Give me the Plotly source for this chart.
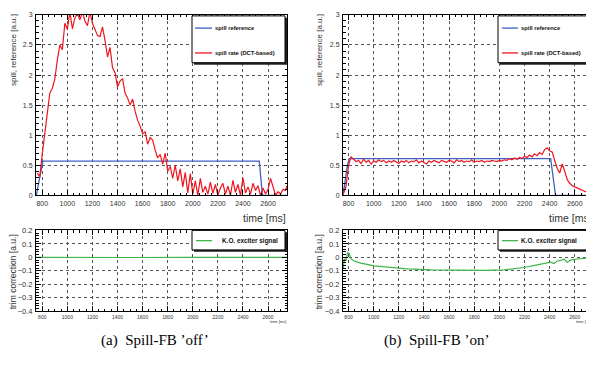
import plotly.graph_objects as go

# The page body has an 8px default margin; the figure is sized/shifted to compensate.
W, H = 594, 368
OFF = 8
FW, FH = W - OFF, H - OFF

# ---------------- data ----------------
t_off = [760, 780, 800, 820, 840, 860, 880, 900, 920, 940, 960, 980, 1000, 1020, 1040, 1060, 1080, 1100,
         1120, 1140, 1160, 1180, 1200, 1220, 1240, 1260, 1280, 1300, 1320, 1340, 1360, 1380, 1400, 1420,
         1440, 1460, 1480, 1500, 1520, 1540, 1560, 1580, 1600, 1620, 1640, 1660, 1680, 1700, 1720, 1740,
         1760, 1780, 1800, 1820, 1840, 1860, 1880, 1900, 1920, 1940, 1960, 1980, 2000, 2020, 2040, 2060,
         2080, 2100, 2120, 2140, 2160, 2180, 2200, 2220, 2240, 2260, 2280, 2300, 2320, 2340, 2360, 2380,
         2400, 2420, 2440, 2460, 2480, 2500, 2520, 2540, 2560, 2580, 2600, 2620, 2640, 2660, 2680, 2700,
         2720, 2740, 2750]
rate_off = [0.37, 0.31, 0.69, 1.05, 1.39, 1.70, 1.78, 1.93, 2.25, 2.50, 2.42, 2.86, 2.76, 3.05, 2.77, 2.95,
            3.02, 2.92, 3.05, 2.90, 2.82, 3.05, 2.86, 2.75, 2.66, 2.64, 2.80, 2.58, 2.30, 2.46, 2.12, 2.04,
            1.80, 1.90, 1.94, 1.70, 1.62, 1.50, 1.60, 1.40, 1.25, 1.15, 1.02, 1.06, 0.85, 0.96, 0.92, 0.75,
            0.62, 0.68, 0.52, 0.70, 0.40, 0.48, 0.28, 0.50, 0.24, 0.44, 0.14, 0.38, 0.04, 0.36, 0.02, 0.24,
            0.00, 0.28, 0.05, 0.15, 0.02, 0.22, 0.03, 0.18, 0.00, 0.12, 0.20, 0.02, 0.15, 0.00, 0.25, 0.05,
            0.18, 0.00, 0.29, 0.04, 0.14, 0.02, 0.20, 0.08, 0.16, 0.00, 0.12, 0.02, 0.10, 0.28, 0.12, 0.00,
            0.06, 0.02, 0.10, 0.08, 0.16]

t_ref_off = [752, 770, 790, 805, 2530, 2555, 2751]
ref_off = [0.0, 0.20, 0.45, 0.57, 0.57, 0.0, 0.0]

t_on = [760, 780, 800, 820, 840, 860, 880, 900, 920, 940, 960, 980, 1000, 1020, 1040, 1060, 1080, 1100,
        1120, 1140, 1160, 1180, 1200, 1220, 1240, 1260, 1280, 1300, 1320, 1340, 1360, 1380, 1400, 1420,
        1440, 1460, 1480, 1500, 1520, 1540, 1560, 1580, 1600, 1620, 1640, 1660, 1680, 1700, 1720, 1740,
        1760, 1780, 1800, 1820, 1840, 1860, 1880, 1900, 1920, 1940, 1960, 1980, 2000, 2020, 2040, 2060,
        2080, 2100, 2120, 2140, 2160, 2180, 2200, 2220, 2240, 2260, 2280, 2300, 2320, 2340, 2360, 2380,
        2400, 2420, 2440, 2460, 2480, 2500, 2520, 2540, 2560, 2580, 2600, 2620, 2640, 2660, 2680, 2700,
        2720, 2740]
rate_on = [0.03, 0.15, 0.50, 0.64, 0.60, 0.56, 0.58, 0.53, 0.60, 0.55, 0.58, 0.52, 0.57, 0.55, 0.59, 0.56,
           0.58, 0.54, 0.57, 0.55, 0.58, 0.56, 0.53, 0.57, 0.55, 0.58, 0.54, 0.57, 0.56, 0.59, 0.54, 0.57,
           0.55, 0.52, 0.57, 0.55, 0.58, 0.56, 0.54, 0.58, 0.56, 0.55, 0.58, 0.57, 0.54, 0.59, 0.56, 0.58,
           0.55, 0.57, 0.56, 0.59, 0.55, 0.57, 0.56, 0.58, 0.55, 0.57, 0.56, 0.58, 0.57, 0.56, 0.58, 0.57,
           0.59, 0.58, 0.61, 0.59, 0.62, 0.60, 0.63, 0.61, 0.65, 0.63, 0.67, 0.64, 0.69, 0.66, 0.71, 0.68,
           0.76, 0.79, 0.74, 0.72, 0.58, 0.45, 0.37, 0.52, 0.40, 0.26, 0.20, 0.16, 0.14, 0.12, 0.10, 0.08,
           0.07, 0.05, 0.03, 0.04]

t_ref_on = [756, 770, 790, 805, 2408, 2447, 2745]
ref_on = [0.0, 0.22, 0.48, 0.61, 0.61, 0.0, 0.0]

t_ko_off = [750, 1000, 1500, 2000, 2500, 2751]
ko_off = [0.0, -0.002, -0.001, 0.0, 0.0, 0.0]

t_ko_on = [758, 766, 780, 792, 805, 819, 845, 898, 1004, 1136, 1269, 1454, 1666, 1878, 2037, 2196,
           2302, 2408, 2434, 2461, 2490, 2514, 2540, 2567, 2620, 2673, 2745]
ko_on = [-0.08, -0.01, -0.02, 0.034, 0.03, -0.01, -0.027, -0.043, -0.063, -0.075, -0.085, -0.092,
         -0.097, -0.097, -0.092, -0.075, -0.055, -0.036, -0.046, -0.027, -0.022, -0.012, -0.036, -0.02,
         -0.012, -0.007, 0.0]

x_tick_vals = [800, 1000, 1200, 1400, 1600, 1800, 2000, 2200, 2400, 2600]
top_y_ticks = [0, 0.5, 1, 1.5, 2, 2.5, 3]
bot_y_ticks = [-0.4, -0.3, -0.2, -0.1, 0, 0.1, 0.2]

BLUE = "#3d5fc4"
RED = "#f0141e"
GREEN = "#3fb54a"


def px(x):
    return (x - OFF) / FW


def py(y):
    return 1 - (y - OFF) / FH


fig = go.Figure()
fig.add_trace(go.Scatter(x=t_ref_off, y=ref_off, mode="lines", line=dict(color=BLUE, width=1.3),
                         xaxis="x", yaxis="y", showlegend=False))
fig.add_trace(go.Scatter(x=t_off, y=rate_off, mode="lines", line=dict(color=RED, width=1.2),
                         xaxis="x", yaxis="y", showlegend=False))
fig.add_trace(go.Scatter(x=t_ref_on, y=ref_on, mode="lines", line=dict(color=BLUE, width=1.3),
                         xaxis="x2", yaxis="y2", showlegend=False))
fig.add_trace(go.Scatter(x=t_on, y=rate_on, mode="lines", line=dict(color=RED, width=1.2),
                         xaxis="x2", yaxis="y2", showlegend=False))
fig.add_trace(go.Scatter(x=t_ko_off, y=ko_off, mode="lines", line=dict(color=GREEN, width=1.2),
                         xaxis="x3", yaxis="y3", showlegend=False))
fig.add_trace(go.Scatter(x=t_ko_on, y=ko_on, mode="lines", line=dict(color=GREEN, width=1.2),
                         xaxis="x4", yaxis="y4", showlegend=False))

TICKFONT = dict(family="Liberation Sans, Arial", size=7, color="#333")


def xaxis(domain, rng, anchor, fsize):
    return dict(domain=domain, range=rng, anchor=anchor, tickvals=x_tick_vals,
                ticks="inside", ticklen=5, tickcolor="black", showline=True, linecolor="black",
                linewidth=1, mirror="allticks", showgrid=True, gridcolor="#555", griddash="dot",
                gridwidth=1, zeroline=False, tickfont=dict(TICKFONT, size=fsize), ticklabelstandoff=1,
                minor=dict(dtick=50, tick0=800, ticks="inside", ticklen=2.5, tickcolor="black", showgrid=False),
                fixedrange=True)


def yaxis(domain, rng, anchor, vals, mdt, fsize):
    return dict(domain=domain, range=rng, anchor=anchor, tickvals=vals,
                ticks="inside", ticklen=5, tickcolor="black", showline=True, linecolor="black",
                linewidth=1, mirror="allticks", showgrid=True, gridcolor="#555", griddash="dot",
                gridwidth=1, zeroline=False, tickfont=dict(TICKFONT, size=fsize), ticklabelstandoff=1,
                minor=dict(dtick=mdt, ticks="inside", ticklen=2.5, tickcolor="black", showgrid=False),
                fixedrange=True)


top_dom = [py(196), py(11)]
bot_dom = [py(315), py(232)]
left_dom = [px(36), px(287)]
right_dom = [px(343), px(593)]

fig.update_layout(
    width=FW, height=FH, margin=dict(l=0, r=0, t=0, b=0),
    paper_bgcolor="white", plot_bgcolor="white", showlegend=False,
    xaxis=xaxis(left_dom, [750, 2751], "y", 7),
    yaxis=yaxis(top_dom, [0, 3], "x", top_y_ticks, 0.1, 7),
    xaxis2=xaxis(right_dom, [756, 2745], "y2", 7),
    yaxis2=yaxis(top_dom, [0, 3], "x2", top_y_ticks, 0.1, 7),
    xaxis3=xaxis(left_dom, [750, 2751], "y3", 5),
    yaxis3=yaxis(bot_dom, [-0.4, 0.2], "x3", bot_y_ticks, 0.02, 7.5),
    xaxis4=xaxis(right_dom, [756, 2745], "y4", 5),
    yaxis4=yaxis(bot_dom, [-0.4, 0.2], "x4", bot_y_ticks, 0.02, 7.5),
)

shapes = []
ann = []


def legend_box(x0, y0, x1, y1):
    shapes.append(dict(type="rect", xref="paper", yref="paper", x0=px(x0 + 2), x1=px(x1 + 2),
                       y0=py(y1 + 2), y1=py(y0 + 2), fillcolor="#222", line=dict(width=0), layer="above"))
    shapes.append(dict(type="rect", xref="paper", yref="paper", x0=px(x0), x1=px(x1),
                       y0=py(y1), y1=py(y0), fillcolor="white", line=dict(color="black", width=1),
                       layer="above"))


def legend_item(xl0, xl1, y, color, text, xt, fsize):
    shapes.append(dict(type="line", xref="paper", yref="paper", x0=px(xl0), x1=px(xl1), y0=py(y), y1=py(y),
                       line=dict(color=color, width=1.3), layer="above"))
    ann.append(dict(xref="paper", yref="paper", x=px(xt), y=py(y), xanchor="left", yanchor="middle",
                    text="<b>" + text + "</b>", showarrow=False, borderpad=0,
                    font=dict(family="Liberation Sans, Arial", size=fsize, color="#111")))


# top-left legend
legend_box(192, 12, 285, 60)
legend_item(195, 212, 24.5, BLUE, "spill reference", 214, 5.8)
legend_item(195, 212, 50, RED, "spill rate (DCT-based)", 214, 5.8)
# top-right legend
legend_box(498, 12, 590, 60)
legend_item(502, 518, 24.5, BLUE, "spill reference", 520, 5.8)
legend_item(502, 518, 50, RED, "spill rate (DCT-based)", 520, 5.8)
# bottom legends
legend_box(192, 232, 285, 252)
legend_item(196, 212, 242.5, GREEN, "K.O. exciter signal", 221, 6.4)
legend_box(498, 232, 590, 252)
legend_item(502, 518, 242.5, GREEN, "K.O. exciter signal", 520, 6.4)

AX = dict(family="Liberation Sans, Arial", color="#333")
for xc in (13, 319):
    ann.append(dict(xref="paper", yref="paper", x=px(xc), y=py(47), text="spill, reference [a.u.]",
                    textangle=-90, showarrow=False, font=dict(AX, size=8), xanchor="center", yanchor="middle"))
    ann.append(dict(xref="paper", yref="paper", x=px(xc), y=py(275), text="trim correction [a.u.]",
                    textangle=-90, showarrow=False, font=dict(AX, size=8.5), xanchor="center", yanchor="middle"))
for xr in (287, 593):
    ann.append(dict(xref="paper", yref="paper", x=px(xr), y=py(219), text="time [ms]", showarrow=False,
                    xanchor="right", yanchor="middle", borderpad=0, font=dict(AX, size=10.5)))
    ann.append(dict(xref="paper", yref="paper", x=px(xr), y=py(325), text="time [ms]", showarrow=False,
                    xanchor="right", yanchor="middle", borderpad=0, font=dict(AX, size=4)))

CAP = dict(family="Liberation Serif, Times New Roman", size=15, color="black")
ann.append(dict(xref="paper", yref="paper", x=px(155), y=py(345), text="(a)  Spill-FB \u2019off\u2019",
                showarrow=False, xanchor="center", yanchor="middle", font=CAP))
ann.append(dict(xref="paper", yref="paper", x=px(436), y=py(345), text="(b)  Spill-FB \u2019on\u2019",
                showarrow=False, xanchor="center", yanchor="middle", font=CAP))

fig.update_layout(shapes=shapes, annotations=ann)
fig.write_html("out.html")
